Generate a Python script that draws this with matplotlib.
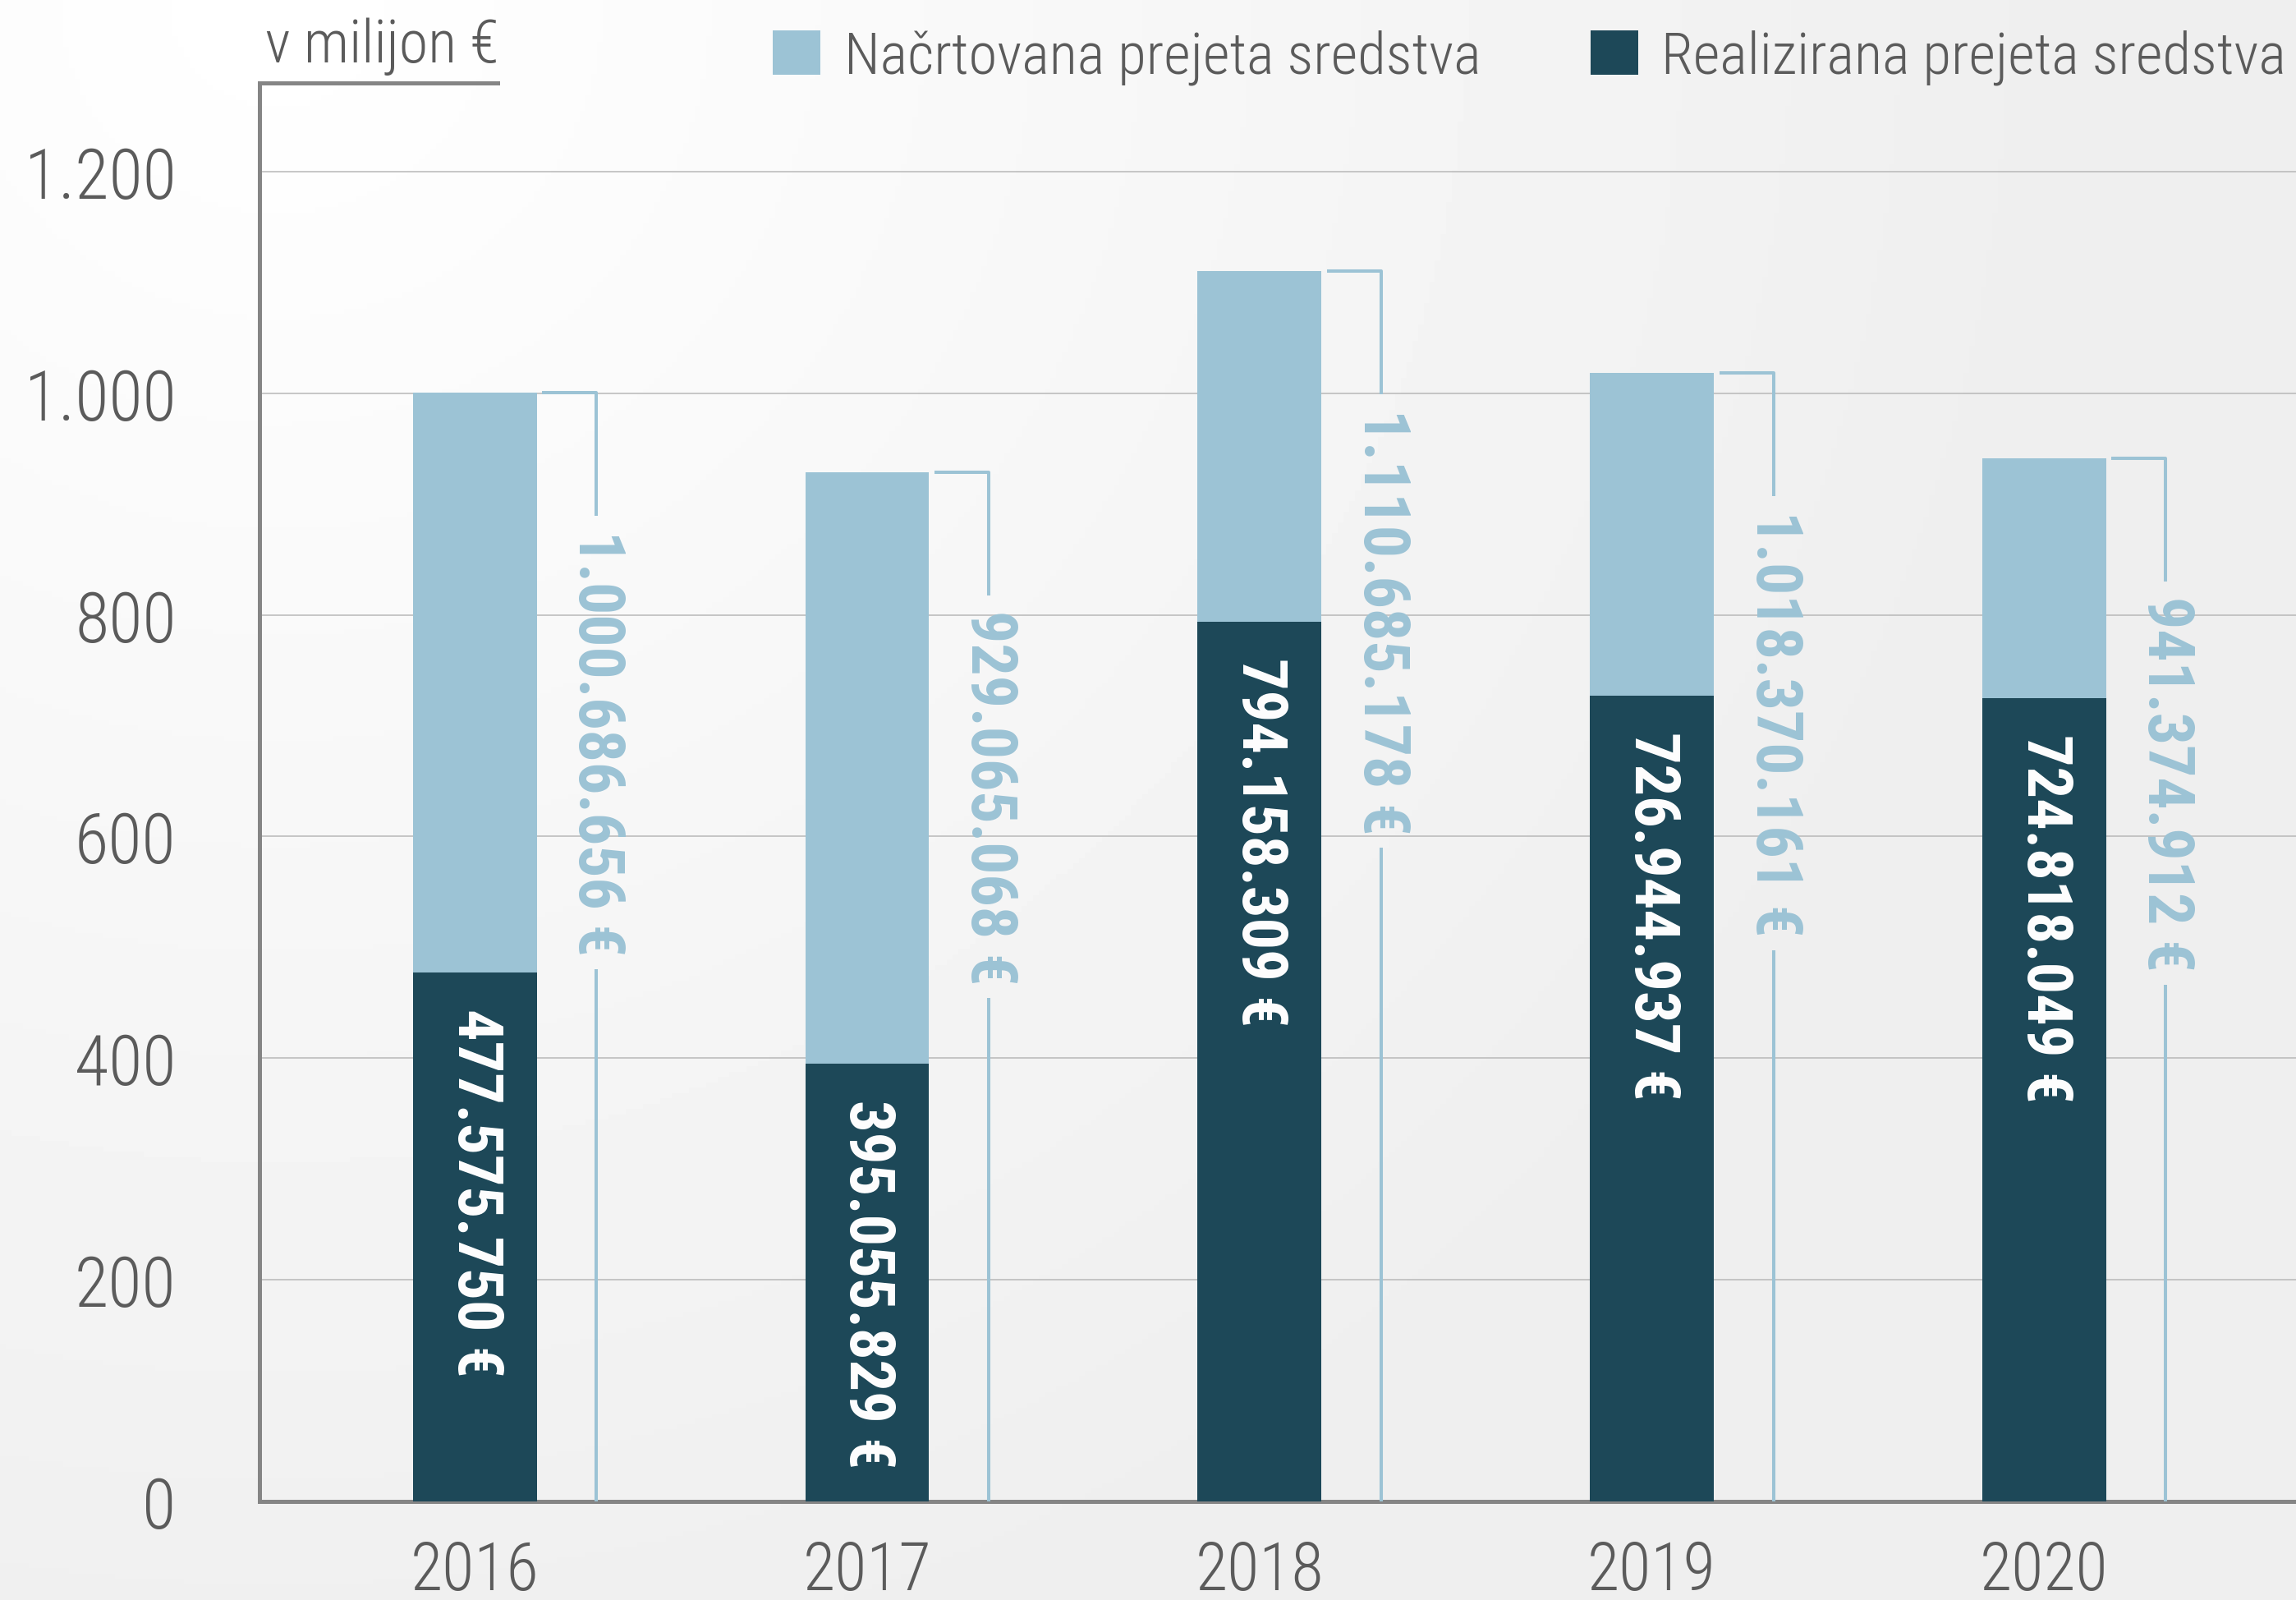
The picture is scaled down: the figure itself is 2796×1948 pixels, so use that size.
import numpy as np
import matplotlib
matplotlib.use("Agg")
from matplotlib import pyplot as plt
from matplotlib import font_manager
from matplotlib.patches import Patch
from matplotlib.lines import Line2D

# %% data
years = ["2016", "2017", "2018", "2019", "2020"]
planned_eur = [1000686656, 929065068, 1110685178, 1018370161, 941374912]
realized_eur = [477575750, 395055829, 794158309, 726944937, 724818049]
y_ticks = [0, 200, 400, 600, 800, 1000, 1200]
y_tick_labels = ["0", "200", "400", "600", "800", "1.000", "1.200"]
unit_label = "v milijon €"
legend_labels = ["Načrtovana prejeta sredstva", "Realizirana prejeta sredstva"]

light = "#9cc3d5"
dark = "#1d4858"
grey_txt = "#5b5b5b"
spine_col = "#858585"


def eur(v):
    return f"{v:,}".replace(",", ".") + " €"


available = {f.name for f in font_manager.fontManager.ttflist}
narrow = next((f for f in ["Roboto Condensed", "Liberation Sans Narrow",
                           "Open Sans Condensed", "Roboto", "DejaVu Sans"]
               if f in available), "DejaVu Sans")
plt.rcParams["font.family"] = [narrow, "DejaVu Sans"]

planned = np.array(planned_eur) / 1e6
realized = np.array(realized_eur) / 1e6
x = np.arange(len(years))

# %% figure + gradient background
fig = plt.figure(figsize=(27.96, 19.49), dpi=100)
bg = fig.add_axes([0, 0, 1, 1], zorder=-10)
gx, gy = np.meshgrid(np.linspace(0, 1, 400), np.linspace(0, 1, 300))
dist = np.sqrt(((gx - 0.12) * 1.4) ** 2 + (gy - 0.0) ** 2)
shade = 1.0 - 0.065 * np.clip(dist / 1.1, 0, 1)
bg.imshow(shade, cmap="gray", vmin=0, vmax=1, aspect="auto",
          extent=[0, 1, 0, 1], origin="upper")
bg.axis("off")

ax = fig.add_axes([0.113, 0.0616, 0.887, 0.886])
ax.set_facecolor("none")

bw = 0.316
ax.bar(x, planned, width=bw, color=light, zorder=2)
ax.bar(x, realized, width=bw, color=dark, zorder=3)

ax.set_xlim(-0.549, 4.642)
ax.set_ylim(0, 1280)
ax.set_yticks(y_ticks)
ax.set_yticklabels(y_tick_labels)
ax.set_xticks(x)
ax.set_xticklabels(years)
ax.tick_params(axis="y", length=0, pad=73, labelsize=61, labelcolor=grey_txt)
ax.tick_params(axis="x", length=0, pad=33, labelsize=58, labelcolor=grey_txt)
for lab in ax.get_xticklabels() + ax.get_yticklabels():
    lab.set_fontweight("light")

ax.yaxis.grid(True, color="#b8b8b8", linewidth=1.1, zorder=0)
ax.set_axisbelow(True)
for s in ["top", "right"]:
    ax.spines[s].set_visible(False)
for s in ["left", "bottom"]:
    ax.spines[s].set_color(spine_col)
    ax.spines[s].set_linewidth(3.6)
ax.add_line(Line2D([0, 0.117], [1, 1], transform=ax.transAxes, color=spine_col,
                   linewidth=3.6, clip_on=False, solid_capstyle="projecting"))
fig.text(0.1155, 0.989, unit_label, fontsize=52, color=grey_txt,
         fontweight="light", ha="left", va="top")

# value labels
light_txt = []
for i in range(len(years)):
    ax.text(x[i], realized[i] - 32, eur(realized_eur[i]), rotation=-90,
            ha="center", va="top", color="white", fontsize=55,
            fontweight="bold", zorder=5)
    t = ax.text(x[i] + 0.31, planned[i] - 124, eur(planned_eur[i]),
                rotation=-90, ha="center", va="top", color=light,
                fontsize=56, fontweight="bold", zorder=5)
    light_txt.append(t)

# brackets with a gap for the label
fig.canvas.draw()
r = fig.canvas.get_renderer()
inv = ax.transData.inverted()
gap = 17 / 270 * 200
for i, t in enumerate(light_txt):
    bb = t.get_window_extent(r)
    y_lo = inv.transform((0, bb.y0))[1]
    y_hi = inv.transform((0, bb.y1))[1]
    xv = x[i] + 0.31
    kw = dict(color=light, linewidth=2.9, zorder=4, solid_capstyle="butt")
    ax.plot([x[i] + 0.172, xv, xv], [planned[i], planned[i], y_hi + gap], **kw)
    ax.plot([xv, xv], [y_lo - gap, 0], **kw)

handles = [Patch(facecolor=light, label=legend_labels[0]),
           Patch(facecolor=dark, label=legend_labels[1])]
leg = fig.legend(handles=handles, loc="center left",
                 bbox_to_anchor=(0.3367, 0.964), ncol=2, frameon=False,
                 fontsize=51, handlelength=0.82, handleheight=0.8,
                 handletextpad=0.4, columnspacing=1.88, borderpad=0,
                 borderaxespad=0)
for t in leg.get_texts():
    t.set_color(grey_txt)
    t.set_fontweight("light")

fig.savefig("out.png", dpi=100)
